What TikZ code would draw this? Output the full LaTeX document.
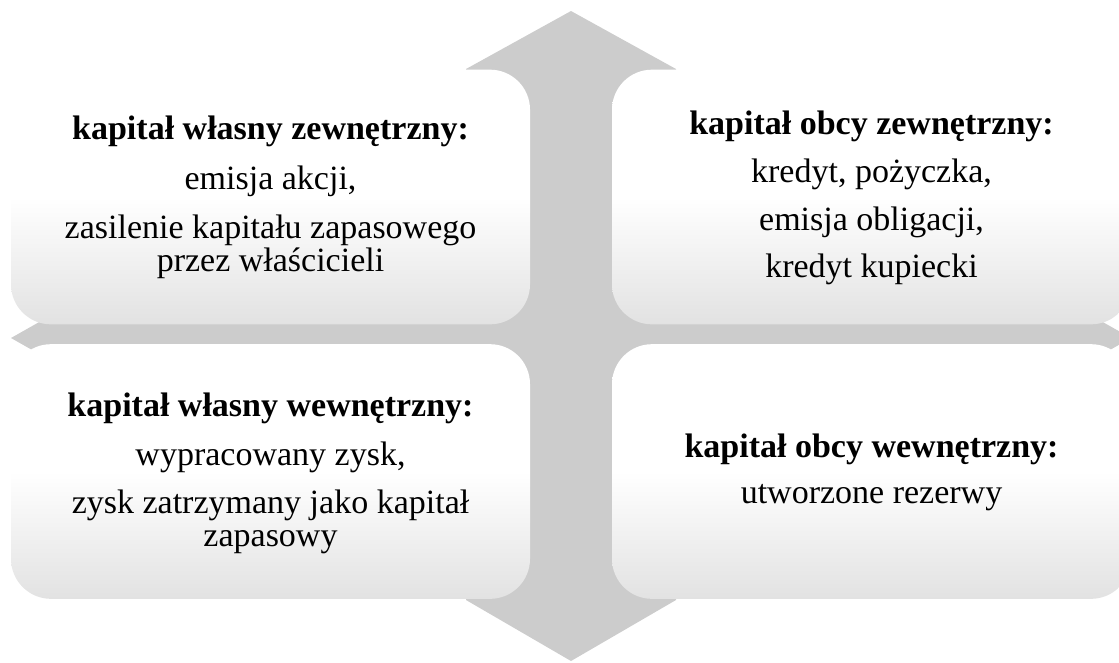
\documentclass[tikz,border=0pt]{standalone}
\usepackage{fontspec}
\setmainfont{Liberation Serif}
\definecolor{arrowgray}{HTML}{CCCCCC}
\definecolor{boxbot}{HTML}{E2E2E2}
% quadrant fill: white upper half fading to light grey at the bottom
\pgfdeclareverticalshading{boxfade}{100bp}{color(0bp)=(boxbot); color(25bp)=(boxbot); color(50bp)=(white); color(100bp)=(white)}
\tikzset{
  quad/.style={shade, shading=boxfade, rounded corners=30pt, minimum width=389.25pt,
    minimum height=191pt, inner sep=0pt, draw=none},
  headtxt/.style={font=\fontsize{25.5pt}{30pt}\selectfont\bfseries, anchor=base, inner sep=0pt},
  bodytxt/.style={font=\fontsize{25.5pt}{30pt}\selectfont, anchor=base, inner sep=0pt},
  arrowfill/.style={fill=arrowgray, draw=none},
}
\begin{document}
\begin{tikzpicture}[x=0.75pt,y=-0.75pt]
\useasboundingbox (0,0) rectangle (1119,662);
\clip (0,0) rectangle (1119,662);

% four-way arrow behind the quadrants
\fill[arrowfill] (571,11) -- (676,69) -- (676,600) -- (571,661) -- (466,600) -- (466,69) -- cycle;
\fill[arrowfill] (11,338) -- (71,304) -- (1071,304) -- (1131,338) -- (1071,372) -- (71,372) -- cycle;

% quadrants
\node[quad] (tl) at (270.5,197) {};
\node[quad] (tr) at (871.5,197) {};
\node[quad] (bl) at (270.5,471.5) {};
\node[quad] (br) at (871.5,471.5) {};

% top left
\node[headtxt] (tlh) at (270.5,139) {kapitał własny zewnętrzny:};
\node[bodytxt] (tla) at (270.5,189) {emisja akcji,};
\node[bodytxt] (tlb) at (270.5,238) {zasilenie kapitału zapasowego};
\node[bodytxt] (tlc) at (270.5,271) {przez właścicieli};

% top right
\node[headtxt] (trh) at (871.5,134) {kapitał obcy zewnętrzny:};
\node[bodytxt] (tra) at (871.5,182) {kredyt, pożyczka,};
\node[bodytxt] (trb) at (871.5,230) {emisja obligacji,};
\node[bodytxt] (trc) at (871.5,277) {kredyt kupiecki};

% bottom left
\node[headtxt] (blh) at (270.5,416) {kapitał własny wewnętrzny:};
\node[bodytxt] (bla) at (270.5,465) {wypracowany zysk,};
\node[bodytxt] (blb) at (270.5,513) {zysk zatrzymany jako kapitał};
\node[bodytxt] (blc) at (270.5,546) {zapasowy};

% bottom right
\node[headtxt] (brh) at (871.5,457) {kapitał obcy wewnętrzny:};
\node[bodytxt] (bra) at (871.5,503) {utworzone rezerwy};
\end{tikzpicture}
\end{document}
